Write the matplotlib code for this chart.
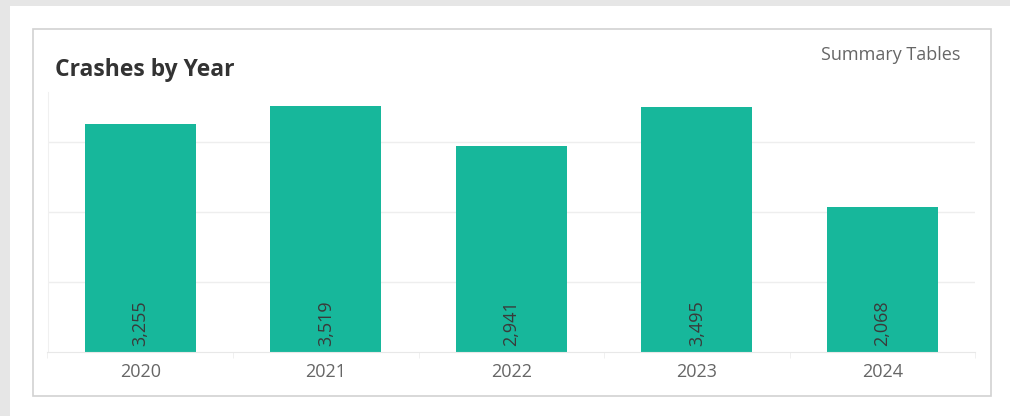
import matplotlib
matplotlib.use("Agg")
import matplotlib.pyplot as plt
from matplotlib.patches import Rectangle

years = ["2020", "2021", "2022", "2023", "2024"]
crashes = [3255, 3519, 2941, 3495, 2068]
title = "Crashes by Year"
link_text = "Summary Tables"

W, H = 1010, 416
fig = plt.figure(figsize=(W / 100, H / 100), dpi=100)
fig.patch.set_facecolor("white")


def fx(x):
    return x / W


def fy(y):
    return 1 - y / H


# outer gray frame strips (top and left)
fig.add_artist(Rectangle((0, fy(6)), 1, 6 / H, transform=fig.transFigure,
                         facecolor="#e6e6e6", edgecolor="none", zorder=0))
fig.add_artist(Rectangle((0, 0), 10 / W, 1, transform=fig.transFigure,
                         facecolor="#e6e6e6", edgecolor="none", zorder=0))
# card border
fig.add_artist(Rectangle((fx(32.5), fy(396)), (991 - 32.5) / W, (396 - 29) / H,
                         transform=fig.transFigure, facecolor="white",
                         edgecolor="#d2d2d2", linewidth=1.2, zorder=0))

ax_left, ax_right, ax_top, ax_bottom = 47.5, 975, 92, 352
ax = fig.add_axes([fx(ax_left), fy(ax_bottom), (ax_right - ax_left) / W,
                   (ax_bottom - ax_top) / H])
ax.set_facecolor("none")

x = list(range(len(years)))
bars = ax.bar(x, crashes, width=0.6, color="#17b79b", zorder=2)

ax.set_xlim(-0.5, len(years) - 0.5)
ax.set_ylim(0, 3714)
ax.set_yticks([1000, 2000, 3000])
ax.set_yticklabels([])
ax.tick_params(axis="y", length=0)
ax.yaxis.grid(True, color="#eeeeee", linewidth=1)
ax.set_axisbelow(True)

ax.set_xticks(x)
ax.set_xticklabels(years, fontsize=13, color="#666666", family="Open Sans")
ax.tick_params(axis="x", length=0, pad=8)
ax.set_xticks([i + 0.5 for i in range(-1, len(years))], minor=True)
ax.tick_params(axis="x", which="minor", length=4, color="#eeeeee")

for s in ["top", "right"]:
    ax.spines[s].set_visible(False)
ax.spines["left"].set_color("#f0f0f0")
ax.spines["bottom"].set_color("#e8e8e8")

for xi, v in zip(x, crashes):
    ax.annotate(f"{v:,}", (xi, 0), xytext=(0, 4.5), textcoords="offset points",
                rotation=90, ha="center", va="bottom", fontsize=13,
                color="#3a3a3a", family="Open Sans", zorder=3)

fig.text(fx(55), fy(70), title, fontsize=16.5, fontweight="bold",
         color="#333333", family="Open Sans", va="center", ha="left")
fig.text(fx(960), fy(55), link_text, fontsize=13, color="#666666",
         family="Open Sans", va="center", ha="right")

fig.savefig("out.png", dpi=100, facecolor=fig.get_facecolor())
